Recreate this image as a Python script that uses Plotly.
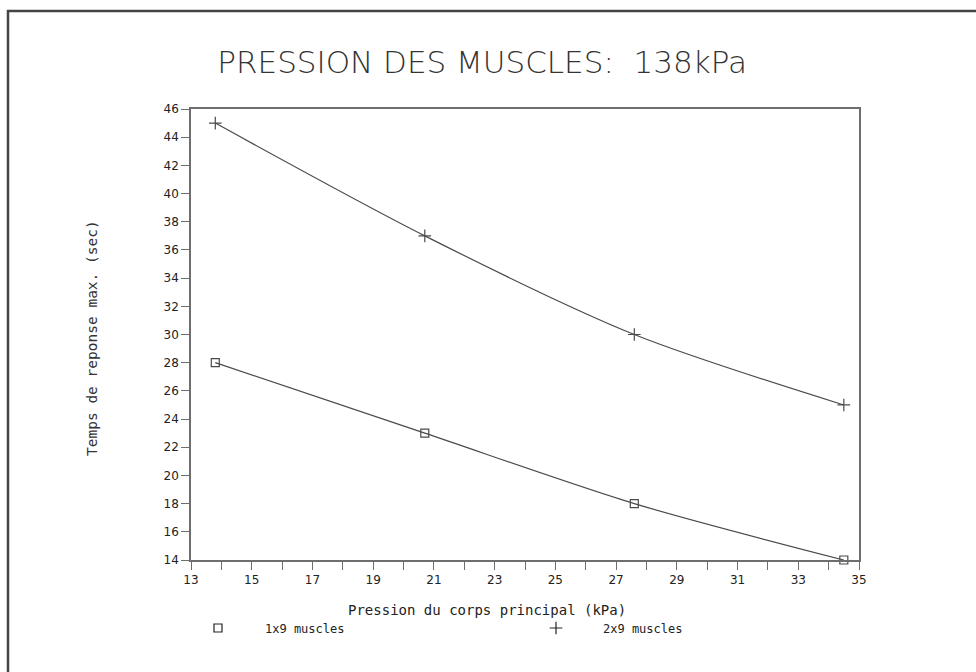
import plotly.graph_objects as go

# Data
pressure_kpa = [13.8, 20.7, 27.6, 34.5]
resp_1x9 = [28, 23, 18, 14]
resp_2x9 = [45, 37, 30, 25]
series_names = ["1x9 muscles", "2x9 muscles"]
title_text = "PRESSION DES MUSCLES:&nbsp;&nbsp;138kPa"
x_title = "Pression du corps principal (kPa)"
y_title = "Temps de reponse max. (sec)"

line_col = "#4a4a4a"
axis_col = "#6e6e6e"
font_fam = "DejaVu Sans, sans-serif"
mono_fam = "DejaVu Sans Mono, monospace"

fig = go.Figure()
# Curves (no legend)
fig.add_trace(go.Scatter(
    x=pressure_kpa, y=resp_1x9, mode="lines+markers",
    line=dict(color=line_col, width=1.2, shape="spline", smoothing=0.8),
    marker=dict(symbol="square-open", size=8, color=line_col, line=dict(width=1.2)),
    showlegend=False, cliponaxis=False))
fig.add_trace(go.Scatter(
    x=pressure_kpa, y=resp_2x9, mode="lines+markers",
    line=dict(color=line_col, width=1.2, shape="spline", smoothing=0.8),
    marker=dict(symbol="cross-thin-open", size=9, color=line_col, line=dict(width=1.2, color=line_col)),
    showlegend=False, cliponaxis=False))
# Legend entries (markers only)
fig.add_trace(go.Scatter(
    x=[None], y=[None], mode="markers", name=series_names[0], legend="legend",
    marker=dict(symbol="square-open", size=8, color="#222", line=dict(width=1.2))))
fig.add_trace(go.Scatter(
    x=[None], y=[None], mode="markers", name=series_names[1], legend="legend2",
    marker=dict(symbol="cross-thin-open", size=9, color="#222", line=dict(width=1.2, color="#222"))))

leg_common = dict(orientation="h", xanchor="left", y=(560 - 628) / 451, yanchor="middle",
                  itemwidth=84, font=dict(family=mono_fam, size=12, color="#222"),
                  bgcolor="rgba(0,0,0,0)")

fig.update_layout(
    width=976, height=672,
    margin=dict(l=191, r=117, t=109, b=112, autoexpand=False),
    paper_bgcolor="white", plot_bgcolor="white",
    font=dict(family=font_fam, size=12, color="#222"),
    title=dict(text=title_text, x=0.494, xanchor="center", y=1 - 62 / 672, yanchor="middle",
               font=dict(family=font_fam, size=31, color="#333", weight=200)),
    showlegend=True,
    legend=dict(x=(171 - 191) / 668, **leg_common),
    legend2=dict(x=(509 - 191) / 668, **leg_common),
    xaxis=dict(range=[13, 35], tick0=13, dtick=2, ticks="outside", ticklen=8, tickwidth=1,
               tickcolor=axis_col, showline=True, linecolor=axis_col, linewidth=1.5,
               mirror=True, showgrid=False, zeroline=False,
               tickfont=dict(family=font_fam, size=12, color="#222"),
               minor=dict(dtick=1, tick0=13, ticks="outside", ticklen=8, tickcolor=axis_col, showgrid=False)),
    yaxis=dict(range=[14, 46], tick0=14, dtick=2, ticks="outside", ticklen=8, tickwidth=1,
               tickcolor=axis_col, showline=True, linecolor=axis_col, linewidth=1.5,
               mirror=True, showgrid=False, zeroline=False,
               tickfont=dict(family=font_fam, size=12, color="#222")),
    annotations=[
        dict(text=x_title, xref="paper", yref="paper", x=(487 - 191) / 668, y=(560 - 610) / 451,
             xanchor="center", yanchor="middle", showarrow=False,
             font=dict(family=mono_fam, size=14, color="#222")),
        dict(text=y_title, xref="paper", yref="paper", x=(92 - 191) / 668, y=(560 - 338) / 451,
             xanchor="center", yanchor="middle", showarrow=False, textangle=-90,
             font=dict(family=mono_fam, size=14.5, color="#333")),
    ],
    shapes=[dict(type="rect", xref="paper", yref="paper",
                 x0=(8 - 191) / 668, x1=1.3, y0=-0.4, y1=(560 - 11) / 451,
                 line=dict(color="#444", width=2.5), fillcolor="rgba(0,0,0,0)", layer="above")],
)

fig.write_html("out.html")
